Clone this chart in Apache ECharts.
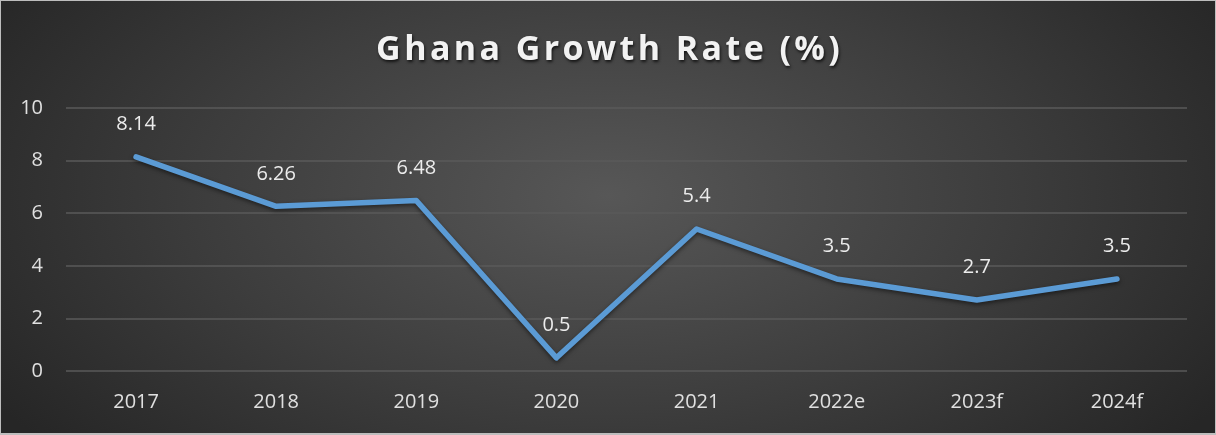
<!DOCTYPE html>
<html><head><meta charset="utf-8">
<script src="https://cdn.jsdelivr.net/npm/echarts@6/dist/echarts.min.js"></script>
<style>
html,body{margin:0;padding:0;background:#fff;}
#c{position:absolute;left:0;top:0;width:1214px;height:432px;border:1px solid #bdbdbd;border-bottom:2px solid #bdbdbd;
background:radial-gradient(ellipse 60% 90% at 50% 45%, #575757 0%, #3d3d3d 55%, #262626 100%);}
</style></head>
<body><div id="c"></div>
<script>
const categories = ['2017','2018','2019','2020','2021','2022e','2023f','2024f'];
const growth = [8.14, 6.26, 6.48, 0.5, 5.4, 3.5, 2.7, 3.5];
const yTicks = [0, 2, 4, 6, 8, 10];
const titleText = 'Ghana Growth Rate (%)';

const chart = echarts.init(document.getElementById('c'), null, {renderer:'canvas'});
chart.setOption({
  backgroundColor: 'transparent',
  title: {
    text: titleText.split('').join('\u200A'),
    left: 'center', top: 27,
    textStyle: {color:'#f2f2f2', fontSize:34, fontWeight:'bold', fontFamily:'Open Sans',
      textShadowColor:'rgba(0,0,0,0.7)', textShadowBlur:3, textShadowOffsetX:1, textShadowOffsetY:2}
  },
  grid: {left:65, right:28, top:107, bottom:62},
  xAxis: {
    type:'category', data:categories, boundaryGap:true,
    axisLine:{show:false}, axisTick:{show:false},
    axisLabel:{color:'#e0e0e0', fontSize:20, fontFamily:'Open Sans', margin:21}
  },
  yAxis: {
    type:'value', min:yTicks[0], max:yTicks[yTicks.length-1], interval:2,
    axisLine:{show:false}, axisTick:{show:false},
    axisLabel:{color:'#e0e0e0', fontSize:20, fontFamily:'Open Sans', margin:23},
    splitLine:{lineStyle:{color:'#5a5a5a', width:1.5}}
  },
  series: [{
    type:'line', data:growth, symbol:'circle', symbolSize:1, showSymbol:true, smooth:false,
    itemStyle:{color:'rgba(0,0,0,0)'},
    lineStyle:{color:'#5b9bd5', width:5.5, cap:'round', join:'round',
      shadowColor:'rgba(0,0,0,0.5)', shadowBlur:4, shadowOffsetY:2},
    label:{show:true, position:'top', distance:22, color:'#ececec', fontSize:20, fontFamily:'Open Sans'}
  }]
});
</script></body></html>
